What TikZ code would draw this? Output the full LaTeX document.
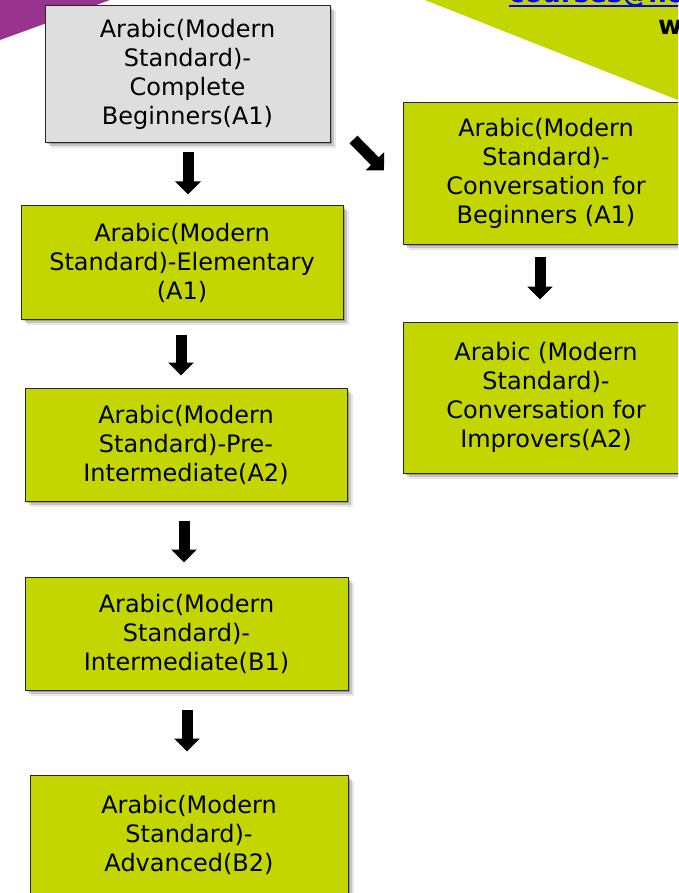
\documentclass[tikz,border=0pt]{standalone}
\usepackage{fontspec}
\setmainfont{DejaVu Sans}
\usetikzlibrary{arrows.meta,calc,shadows}
\definecolor{boxgreen}{RGB}{196,214,0}
\definecolor{boxgray}{RGB}{222,222,222}
\definecolor{cornerpurple}{RGB}{152,52,142}
\definecolor{linkblue}{RGB}{0,0,255}
\tikzset{
  softshadow/.style={
    drop shadow={shadow xshift=1.5pt,shadow yshift=-1.5pt,opacity=.2,fill=black},
    drop shadow={shadow xshift=3.5pt,shadow yshift=-3.5pt,opacity=.15,fill=black},
    drop shadow={shadow xshift=5.5pt,shadow yshift=-5.5pt,opacity=.09,fill=black}},
  course/.style={draw=black!85,line width=1pt,fill=boxgreen,inner sep=0pt,
    align=center,softshadow,font=\fontsize{24}{29}\selectfont},
  startcourse/.style={course,fill=boxgray},
  blockarrow/.style={line width=11pt,-{Triangle[length=13pt,width=25pt]},black}
}
\begin{document}
\begin{tikzpicture}[x=1pt,y=-1pt]
\useasboundingbox (0,0) rectangle (678,893);
\clip (0,0) rectangle (678,893);
\fill[white] (0,0) rectangle (678,893);
% corner decorations
\fill[cornerpurple] (0,0) -- (110,0) -- (0,40) -- cycle;
\fill[boxgreen] (425,0) -- (700,0) -- (700,108.7) -- cycle;
\node[anchor=base west,inner sep=0pt,text=linkblue,font=\fontsize{26}{30}\selectfont\bfseries] (mail) at (509,2.5) {courses@ne};
\draw[linkblue,line width=2pt] ($(mail.base west)+(0,3.5)$) -- ($(mail.base east)+(0,3.5)$);
\node[anchor=base west,inner sep=0pt,font=\fontsize{26}{30}\selectfont\bfseries] (web) at (658,35) {w};
% boxes
\node[startcourse,minimum width=285pt,minimum height=137pt] (b1) at (187.5,74.5)
  {Arabic(Modern\\Standard)-\\Complete\\Beginners(A1)};
\node[course,minimum width=286pt,minimum height=141pt] (b2) at (546,173.5)
  {Arabic(Modern\\Standard)-\\Conversation for\\Beginners (A1)};
\node[course,minimum width=286pt,minimum height=151pt] (b3) at (546,397.5)
  {Arabic (Modern\\Standard)-\\Conversation for\\Improvers(A2)};
\node[course,minimum width=322pt,minimum height=113pt] (elem) at (182,262.5)
  {Arabic(Modern\\Standard)-Elementary\\(A1)};
\node[course,minimum width=322pt,minimum height=113pt] (pre) at (186,444.5)
  {Arabic(Modern\\Standard)-Pre-\\Intermediate(A2)};
\node[course,minimum width=323pt,minimum height=113pt] (int) at (186.5,633.5)
  {Arabic(Modern\\Standard)-\\Intermediate(B1)};
\node[course,minimum width=318pt,minimum height=120pt] (adv) at (189,835)
  {Arabic(Modern\\Standard)-\\Advanced(B2)};
% arrows
\draw[blockarrow] ($(b1.south)+(0.5,9)$) -- ($(b1.south |- elem.north)+(0.5,-11)$);
\draw[blockarrow] ($(b1.south east)+(23,-4)$) -- ($(b2.west)+(-18.5,-3)$);
\draw[blockarrow] ($(elem.south)+(-1,15)$) -- ($(elem.south |- pre.north)+(-1,-12)$);
\draw[blockarrow] ($(pre.south)+(-2,19)$) -- ($(pre.south |- int.north)+(-2,-14)$);
\draw[blockarrow] ($(int.south)+(0.5,19)$) -- ($(int.south |- adv.north)+(0.5,-23)$);
\draw[blockarrow] ($(b2.south)+(-6,12)$) -- ($(b2.south |- b3.north)+(-6,-22)$);
\end{tikzpicture}
\end{document}
